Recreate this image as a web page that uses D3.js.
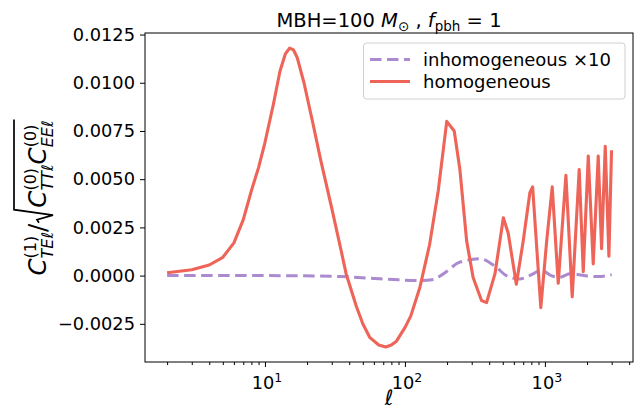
<!DOCTYPE html>
<html><head><meta charset="utf-8">
<script src="https://cdn.jsdelivr.net/npm/d3@7"></script>
<style>body{margin:0;background:#fff} svg{display:block} text{font-family:"DejaVu Sans",sans-serif;fill:#000}</style>
</head><body><svg id="c" width="637" height="410"></svg>
<script>
// ---- data ----
const homEll = [2,3,4,5,6,7,8,9,10,11.5,12.8,14,15,16,17,19,22,25,30,35,38,45,50,56,65,73,80,87,100,110,128,150,173,199,225,247,276,307,353,383,440,505,547,625,700,781,817,935,1030,1128,1245,1413,1567,1758,1879,2041,2214,2404,2541,2698,2866,2993];
const homVal = [0.00015,0.0003,0.00055,0.00095,0.0017,0.0029,0.0044,0.0056,0.0069,0.0089,0.0106,0.0115,0.0118,0.0117,0.0113,0.0100,0.0079,0.0060,0.0035,0.0013,0.0001,-0.0016,-0.0025,-0.0032,-0.0036,-0.0037,-0.0036,-0.0034,-0.0027,-0.0021,-0.0006,0.0016,0.0044,0.0080,0.0075,0.0055,0.0018,-0.0001,-0.0013,-0.0014,0.0001,0.0030,0.0022,-0.00045,0.0018,0.0043,0.0046,-0.00166,0.0018,0.0046,-0.0004,0.0052,-0.0011,0.0055,0.0002,0.0062,0.0006,0.0062,0.0014,0.0067,0.0010,0.0065];
const inhEll = [2,10,35,60,90,128,160,188,247,345,450,530,660,822,920,1000,1110,1276,1503,1750,2000,2400,3000];
const inhVal = [0,0,-0.00005,-0.00015,-0.00022,-0.00026,-0.0002,0.00009,0.0007,0.00087,0.00043,0,-0.00017,0.00009,0.00026,0.0002,0,-0.00009,0.00009,0.00005,-0.00002,-0.00005,0.00005];
const yTicks = [-0.0025,0,0.0025,0.005,0.0075,0.01,0.0125];
const xTicks = [10,100,1000];
const xTickExp = ["1","2","3"];
const legendLabels = ["inhomogeneous \u00d710","homogeneous"];
const colHom = "#ee6458", colInh = "#ab8ad0";

// ---- layout ----
const svg = d3.select("#c");
const L=145, R=633, T=33, B=362;
const x = d3.scaleLog().domain([1.39, 4260]).range([L, R]);
const y = d3.scaleLinear().domain([-0.00448, 0.01258]).range([B, T]);

svg.append("clipPath").attr("id","pc").append("rect").attr("x",L).attr("y",T).attr("width",R-L).attr("height",B-T);
const plot = svg.append("g").attr("clip-path","url(#pc)");

const inh = inhEll.map((e,i)=>[e,inhVal[i]]);
const hom = homEll.map((e,i)=>[e,homVal[i]]);
plot.append("path").datum(inh).attr("fill","none").attr("stroke",colInh).attr("stroke-width",3)
  .attr("stroke-dasharray","11.5,5.5")
  .attr("d", d3.line().x(d=>x(d[0])).y(d=>y(d[1])).curve(d3.curveMonotoneX));
plot.append("path").datum(hom).attr("fill","none").attr("stroke",colHom).attr("stroke-width",3.1)
  .attr("stroke-linejoin","round")
  .attr("d", d3.line().x(d=>x(d[0])).y(d=>y(d[1])));

// axes
const fmt = v => (v<0?"\u2212":"") + Math.abs(v).toFixed(4);
const yAxis = d3.axisLeft(y).tickValues(yTicks).tickSize(5).tickPadding(5).tickFormat(fmt);
const gy = svg.append("g").attr("transform",`translate(${L},0)`).call(yAxis);
gy.selectAll("text").style("font-size","17.8px").attr("font-family","DejaVu Sans");
const minor = [];
[1,10,100,1000].forEach(d=>{for(let k=2;k<=9;k++){const v=k*d; if(v>=1.39&&v<=4260) minor.push(v);}});
const xMinor = d3.axisBottom(x).tickValues(minor).tickSize(3).tickFormat("");
const gxm = svg.append("g").attr("transform",`translate(0,${B})`).call(xMinor);
const xAxis = d3.axisBottom(x).tickValues(xTicks).tickSize(5).tickPadding(5).tickFormat("");
const gx = svg.append("g").attr("transform",`translate(0,${B})`).call(xAxis);
[gy,gxm,gx].forEach(g=>{g.select(".domain").remove(); g.selectAll("line").attr("stroke","#000").attr("stroke-width",1);});
xTicks.forEach((t,i)=>{
  const tx = svg.append("text").attr("x",x(t)+2).attr("y",389).attr("text-anchor","middle").style("font-size","17.8px");
  tx.append("tspan").text("10");
  tx.append("tspan").attr("dy",-7.5).style("font-size","12.5px").text(xTickExp[i]);
});
// frame
svg.append("rect").attr("x",L).attr("y",T).attr("width",R-L).attr("height",B-T).attr("fill","none").attr("stroke","#000").attr("stroke-width",1);

// x label
svg.append("text").attr("x",(L+R)/2).attr("y",405).attr("text-anchor","middle").style("font-size","21px").style("font-style","italic").text("\u2113");

// title
const tt = svg.append("text").attr("x",(L+R)/2).attr("y",26.5).attr("text-anchor","middle").style("font-size","19.5px");
tt.append("tspan").text("MBH=100 ");
tt.append("tspan").style("font-style","italic").text("M");
tt.append("tspan").attr("dy",4).style("font-size","13.5px").text("\u2299");
tt.append("tspan").attr("dy",-4).text(" , ");
tt.append("tspan").style("font-style","italic").text("f");
tt.append("tspan").attr("dy",4).style("font-size","13.5px").text("pbh");
tt.append("tspan").attr("dy",-4).text(" = 1");

// y label
const yl = svg.append("g");
let cx = 0;
function put(txt,size,italic,dy){
  const t = yl.append("text").attr("x",cx).attr("y",dy).style("font-size",size+"px").style("font-style",italic?"italic":"normal").text(txt);
  return t.node().getComputedTextLength();
}
function Cpart(sup,sub){
  cx += put("C",24.5,true,0);
  const w1 = put(sup,16,false,-10.5);
  const w2 = put(sub,16,true,6.5);
  cx += Math.max(w1,w2);
}
Cpart("(1)","TE\u2113");
cx += put("/",24.5,false,0);
const sx = cx;
cx += 16;
Cpart("(0)","TT\u2113");
Cpart("(0)","EE\u2113");
const topY = -32;
yl.append("path").attr("fill","none").attr("stroke","#000").attr("stroke-width",1.7)
  .attr("d",`M${sx+1},-7 L${sx+4},-9 L${sx+8.5},7 L${sx+14},${topY} L${cx+1},${topY}`);
const W = cx;
yl.attr("transform",`translate(46,${198+W/2}) rotate(-90)`);

// legend
const lg = svg.append("g");
lg.append("rect").attr("x",363.5).attr("y",43).attr("width",261.5).attr("height",56).attr("rx",3)
  .attr("fill","#fff").attr("fill-opacity",0.8).attr("stroke","#d0d0d0").attr("stroke-width",1);
const ly = [59.5,81.5];
lg.append("line").attr("x1",370).attr("x2",410).attr("y1",ly[0]).attr("y2",ly[0]).attr("stroke",colInh).attr("stroke-width",3).attr("stroke-dasharray","11.5,5.5");
lg.append("line").attr("x1",370).attr("x2",410).attr("y1",ly[1]).attr("y2",ly[1]).attr("stroke",colHom).attr("stroke-width",3);
legendLabels.forEach((s,i)=>lg.append("text").attr("x",423).attr("y",ly[i]+6.3).style("font-size","18px").text(s));
</script></body></html>
